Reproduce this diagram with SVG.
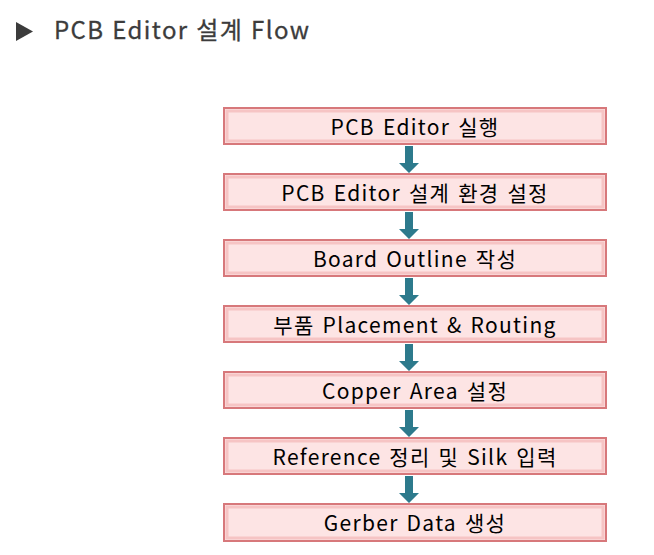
<svg xmlns="http://www.w3.org/2000/svg" width="654" height="555" viewBox="0 0 654 555">
<style>
.box{fill:#fde4e4;stroke:#d7787b;stroke-width:2}
.bevel{fill:none;stroke:#f6c4c4;stroke-width:3}
.lbl{font-family:"Noto Sans CJK KR","Noto Sans",sans-serif;font-size:21px;letter-spacing:1.3px;word-spacing:2px;fill:#000;text-anchor:middle}
.title{font-family:"Noto Sans CJK KR","Noto Sans",sans-serif;font-size:24px;letter-spacing:1.4px;word-spacing:1px;fill:#3c3c3c;stroke:#3c3c3c;stroke-width:0.3px}
.arr{fill:#2d7a8c}
</style>
<rect width="654" height="555" fill="#fff"/>
<g id="title">
<polygon points="16,22 33,31.5 16,41" fill="#3c3c3c"/>
<text class="title" x="54" y="39">PCB Editor 설계 Flow</text>
</g>
<g id="connectors">
<path class="arr" d="M405,146 h8 v17 h6 l-10,10 l-10,-10 h6 z"/>
<path class="arr" d="M405,212 h8 v17 h6 l-10,10 l-10,-10 h6 z"/>
<path class="arr" d="M405,278 h8 v17 h6 l-10,10 l-10,-10 h6 z"/>
<path class="arr" d="M405,344 h8 v17 h6 l-10,10 l-10,-10 h6 z"/>
<path class="arr" d="M405,410 h8 v17 h6 l-10,10 l-10,-10 h6 z"/>
<path class="arr" d="M405,476 h8 v17 h6 l-10,10 l-10,-10 h6 z"/>
</g>
<g id="n1"><rect class="box" x="224" y="108" width="382" height="36"/><rect class="bevel" x="227" y="111" width="376" height="30"/><text class="lbl" x="415" y="135">PCB Editor 실행</text></g>
<g id="n2"><rect class="box" x="224" y="174" width="382" height="36"/><rect class="bevel" x="227" y="177" width="376" height="30"/><text class="lbl" x="415" y="201">PCB Editor 설계 환경 설정</text></g>
<g id="n3"><rect class="box" x="224" y="240" width="382" height="36"/><rect class="bevel" x="227" y="243" width="376" height="30"/><text class="lbl" x="415" y="267">Board Outline 작성</text></g>
<g id="n4"><rect class="box" x="224" y="306" width="382" height="36"/><rect class="bevel" x="227" y="309" width="376" height="30"/><text class="lbl" x="415" y="333">부품 Placement &amp; Routing</text></g>
<g id="n5"><rect class="box" x="224" y="372" width="382" height="36"/><rect class="bevel" x="227" y="375" width="376" height="30"/><text class="lbl" x="415" y="399">Copper Area 설정</text></g>
<g id="n6"><rect class="box" x="224" y="438" width="382" height="36"/><rect class="bevel" x="227" y="441" width="376" height="30"/><text class="lbl" x="415" y="465">Reference 정리 및 Silk 입력</text></g>
<g id="n7"><rect class="box" x="224" y="504" width="382" height="37"/><rect class="bevel" x="227" y="507" width="376" height="31"/><text class="lbl" x="415" y="531">Gerber Data 생성</text></g>
</svg>
